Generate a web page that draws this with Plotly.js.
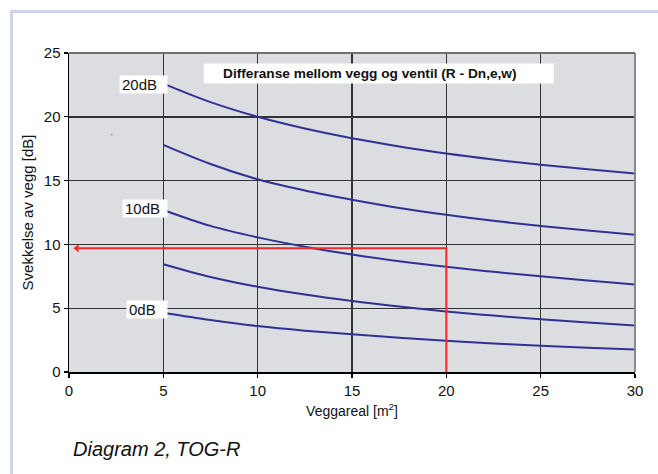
<!DOCTYPE html>
<html>
<head>
<meta charset="utf-8">
<script src="https://cdn.plot.ly/plotly-3.0.1.min.js"></script>
<style>
  html, body { margin: 0; padding: 0; background: #ffffff; }
  #wrap { position: relative; width: 658px; height: 474px; overflow: hidden; }
  #chart { position: absolute; left: 0; top: 0; width: 658px; height: 474px; }
  #frame { position: absolute; left: 10px; top: 10px; width: 700px; height: 500px;
           border-left: 3px solid #cbd4ef; border-top: 3px solid #cbd4ef; pointer-events: none; }
</style>
</head>
<body>
<div id="wrap">
  <div id="chart"></div>
  <div id="frame"></div>
</div>
<script>
// Wall area [m2]
const areas = [5, 7.5, 10, 12.5, 15, 17.5, 20, 22.5, 25, 27.5, 30];
// Reduction of wall [dB] for each difference (R - Dn,e,w)
const curve20dB = [22.6, 21.15, 20.0, 19.08, 18.32, 17.68, 17.12, 16.65, 16.24, 15.88, 15.55];
const curve15dB = [17.8, 16.3, 15.1, 14.22, 13.5, 12.86, 12.32, 11.85, 11.44, 11.08, 10.75];
const curve10dB = [12.7, 11.45, 10.55, 9.82, 9.2, 8.68, 8.24, 7.85, 7.5, 7.17, 6.85];
const curve5dB  = [8.45, 7.45, 6.68, 6.07, 5.56, 5.13, 4.75, 4.42, 4.13, 3.88, 3.65];
const curve0dB  = [4.65, 4.08, 3.6, 3.24, 2.95, 2.68, 2.45, 2.24, 2.06, 1.9, 1.76];
// Reading example (red)
const readX = [20, 20, 0.5];
const readY = [0, 9.7, 9.7];
const arrowX = [0.42];
const arrowY = [9.7];
// Labels
const curveLabels = ['20dB', '10dB', '0dB'];
const curveLabelY = [22.56, 12.85, 4.91];
const xTicks = [0, 5, 10, 15, 20, 25, 30];
const yTicks = [0, 5, 10, 15, 20, 25];
const chartTitle = '<b>Differanse mellom vegg og ventil (R - Dn,e,w)</b>';
const xTitle = 'Veggareal [m<sup>2</sup>]';
const yTitle = 'Svekkelse av vegg [dB]';
const caption = '<i>Diagram 2, TOG-R</i>';

const FONT = 'Liberation Sans, Arial, Helvetica, sans-serif';
const blue = '#2f3196';
const red = '#ee2a2a';

const series = [curve20dB, curve15dB, curve10dB, curve5dB, curve0dB];
const traces = series.map(ys => ({
  x: areas, y: ys, type: 'scatter', mode: 'lines',
  line: { color: blue, width: 2, shape: 'spline', smoothing: 1 },
  hoverinfo: 'skip', showlegend: false
}));
traces.push({
  x: readX, y: readY, type: 'scatter', mode: 'lines',
  line: { color: red, width: 2 }, hoverinfo: 'skip', showlegend: false, cliponaxis: false
});
traces.push({
  x: arrowX, y: arrowY, type: 'scatter', mode: 'markers',
  marker: { color: red, size: 7, symbol: 'triangle-left', line: { width: 0 } },
  hoverinfo: 'skip', showlegend: false, cliponaxis: false
});
traces.push({
  x: [2.26], y: [18.6], type: 'scatter', mode: 'markers',
  marker: { color: '#f08a8a', size: 2 }, hoverinfo: 'skip', showlegend: false
});

const labelWidths = [43, 40, 36];
const annotations = curveLabels.map((t, i) => ({
  x: 5.23, y: curveLabelY[i], xref: 'x', yref: 'y', xanchor: 'right', yanchor: 'middle',
  text: t, showarrow: false, bgcolor: '#ffffff', borderpad: 2,
  width: labelWidths[i], height: 13, align: 'left',
  font: { family: FONT, size: 15, color: '#111111' }
}));
annotations.push({
  x: 8.05, y: 23.42, xref: 'x', yref: 'y', xanchor: 'left', yanchor: 'middle',
  text: chartTitle, showarrow: false,
  font: { family: FONT, size: 13.7, color: '#111111' }
});
annotations.push({
  x: 0.004, y: -0.2406, xref: 'paper', yref: 'paper', xanchor: 'left', yanchor: 'middle',
  text: caption, showarrow: false,
  font: { family: FONT, size: 20, color: '#111111' }
});

const layout = {
  width: 658, height: 474,
  margin: { l: 69, r: 23, t: 53, b: 102 },
  paper_bgcolor: 'rgba(0,0,0,0)',
  plot_bgcolor: '#dcdde0',
  font: { family: FONT, color: '#111111' },
  showlegend: false,
  xaxis: {
    range: [0, 30], tickvals: xTicks, ticktext: xTicks.map(String),
    showgrid: true, gridcolor: '#333333', gridwidth: 1.4,
    zeroline: false, showline: true, linecolor: '#000000', linewidth: 1.5,
    ticks: 'outside', ticklen: 4, tickcolor: '#000000', tickwidth: 1.2,
    tickfont: { family: FONT, size: 15, color: '#111111' },
    title: { text: xTitle, standoff: 8, font: { family: FONT, size: 14, color: '#111111' } },
    fixedrange: true
  },
  yaxis: {
    range: [0, 25], tickvals: yTicks, ticktext: yTicks.map(String),
    showgrid: true, gridcolor: '#333333', gridwidth: 1.4,
    zeroline: false, showline: true, linecolor: '#000000', linewidth: 1.5,
    ticks: 'outside', ticklen: 4, tickcolor: '#000000', tickwidth: 1.2,
    tickfont: { family: FONT, size: 15, color: '#111111' },
    title: { text: yTitle, standoff: 6, font: { family: FONT, size: 15, color: '#111111' } },
    fixedrange: true
  },
  shapes: [
    { type: 'rect', xref: 'x', yref: 'y', x0: 7.14, x1: 25.69, y0: 22.6, y1: 24.17,
      fillcolor: '#ffffff', line: { width: 0 }, layer: 'above' },
    { type: 'line', xref: 'paper', yref: 'paper', x0: 1, x1: 1, y0: 0, y1: 1,
      line: { color: '#8a8a8a', width: 2 }, layer: 'above' },
    { type: 'line', xref: 'paper', yref: 'paper', x0: 0, x1: 1, y0: 1, y1: 1,
      line: { color: '#6e6e6e', width: 2 }, layer: 'above' }
  ],
  annotations: annotations
};

Plotly.newPlot('chart', traces, layout, { staticPlot: true, displayModeBar: false });
</script>
</body>
</html>
